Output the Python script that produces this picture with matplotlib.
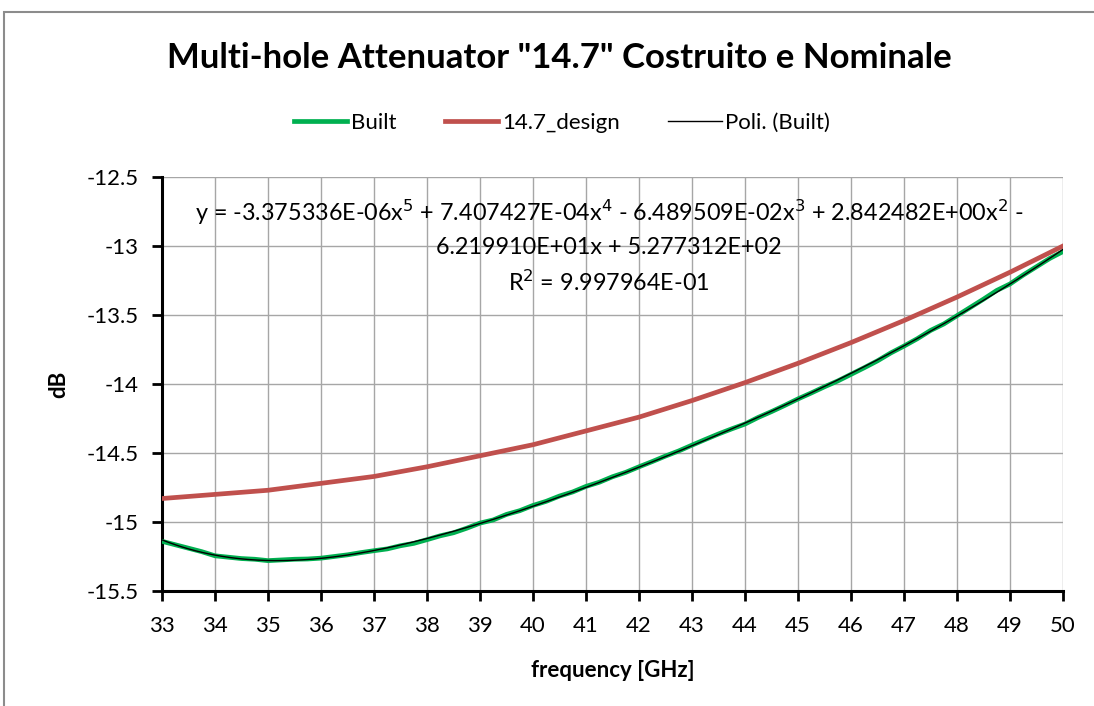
import matplotlib
matplotlib.use("Agg")
import matplotlib.pyplot as plt
import matplotlib.patches as patches
import numpy as np

plt.rcParams['font.family'] = ['Lato', 'DejaVu Sans']

freq_built = [33.00, 33.25, 33.50, 33.75, 34.00, 34.25, 34.50, 34.75,
              35.00, 35.25, 35.50, 35.75, 36.00, 36.25, 36.50, 36.75,
              37.00, 37.25, 37.50, 37.75, 38.00, 38.25, 38.50, 38.75,
              39.00, 39.25, 39.50, 39.75, 40.00, 40.25, 40.50, 40.75,
              41.00, 41.25, 41.50, 41.75, 42.00, 42.25, 42.50, 42.75,
              43.00, 43.25, 43.50, 43.75, 44.00, 44.25, 44.50, 44.75,
              45.00, 45.25, 45.50, 45.75, 46.00, 46.25, 46.50, 46.75,
              47.00, 47.25, 47.50, 47.75, 48.00, 48.25, 48.50, 48.75,
              49.00, 49.25, 49.50, 49.75, 50.00]
built = [-15.140, -15.165, -15.190, -15.215, -15.245, -15.255, -15.265, -15.270,
         -15.280, -15.275, -15.270, -15.268, -15.262, -15.250, -15.238, -15.222,
         -15.208, -15.195, -15.172, -15.155, -15.128, -15.100, -15.078, -15.045,
         -15.008, -14.985, -14.945, -14.918, -14.880, -14.850, -14.812, -14.782,
         -14.742, -14.712, -14.672, -14.640, -14.600, -14.562, -14.522, -14.485,
         -14.443, -14.402, -14.362, -14.325, -14.290, -14.242, -14.200, -14.155,
         -14.108, -14.065, -14.020, -13.978, -13.930, -13.882, -13.832, -13.775,
         -13.725, -13.672, -13.612, -13.565, -13.505, -13.445, -13.385, -13.322,
         -13.275, -13.210, -13.150, -13.090, -13.040]

# curva nominale di progetto
freq_design = [33, 34, 35, 36, 37, 38, 39, 40, 41, 42, 43, 44, 45, 46, 47, 48, 49, 50]
design = [-14.83, -14.80, -14.77, -14.72, -14.67, -14.60, -14.52, -14.44, -14.34,
          -14.24, -14.12, -13.99, -13.85, -13.70, -13.54, -13.37, -13.19, -13.00]

eq_text = ("y = -3.375336E-06x$^5$ + 7.407427E-04x$^4$ - 6.489509E-02x$^3$ + 2.842482E+00x$^2$ -\n"
           "6.219910E+01x + 5.277312E+02\n"
           "R$^2$ = 9.997964E-01")

fig = plt.figure(figsize=(10.94, 7.06), dpi=100)
ax = fig.add_axes([0.1481, 0.1629, 0.8236, 0.5864])

# cornice dell'area grafico
fig.patches.append(patches.Rectangle((4 / 1094, -0.1), 1.2, 1.1 - 12 / 706,
                                     transform=fig.transFigure, fill=False,
                                     edgecolor="#8c8c8c", lw=1.5))

ax.plot(freq_built, built, color="#00B050", lw=3.4, label="Built", zorder=3)
ax.plot(freq_design, design, color="#C0504D", lw=3.4, label="14.7_design", zorder=3)

# linea di tendenza polinomiale (grado 5) come in Excel
fit = np.polynomial.Polynomial.fit(freq_built, built, 5)
xf = np.linspace(33, 50, 400)
ax.plot(xf, fit(xf), color="black", lw=1.0, label="Poli. (Built)", zorder=4)

ax.set_xlim(33, 50)
ax.set_ylim(-15.5, -12.5)
ax.set_xticks(range(33, 51))
ax.set_yticks([-15.5, -15, -14.5, -14, -13.5, -13, -12.5])
ax.set_yticklabels(["-15.5", "-15", "-14.5", "-14", "-13.5", "-13", "-12.5"])
ax.grid(True, color="#a6a6a6", lw=1.0)
ax.set_axisbelow(True)
for s in ["top", "right"]:
    ax.spines[s].set_visible(False)
for s in ["left", "bottom"]:
    ax.spines[s].set_linewidth(2.2)
ax.tick_params(axis="both", direction="out", length=7, width=2, labelsize=16)
ax.tick_params(axis="x", pad=11)
ax.tick_params(axis="y", pad=10)

ax.set_xlabel("frequency [GHz]", fontsize=16, fontweight="bold", labelpad=17)
ax.set_ylabel("dB", fontsize=16, fontweight="bold", labelpad=12)

ax.text(0.5 * (193 + 1025) / 1094, 1 - 198 / 706, eq_text, transform=fig.transFigure,
        ha="center", va="top", fontsize=16.8, linespacing=1.55)

fig.text(0.5 * (165 + 953) / 1094, 1 - 58 / 706,
         'Multi-hole Attenuator "14.7" Costruito e Nominale',
         ha="center", va="center", fontsize=25, fontweight="bold")

fig.legend(loc="center", bbox_to_anchor=(562 / 1094, 1 - 123 / 706), ncol=3,
           frameon=False, fontsize=16, handlelength=2.4, handletextpad=0.15,
           columnspacing=2.2)

fig.savefig("out.png", dpi=100)
